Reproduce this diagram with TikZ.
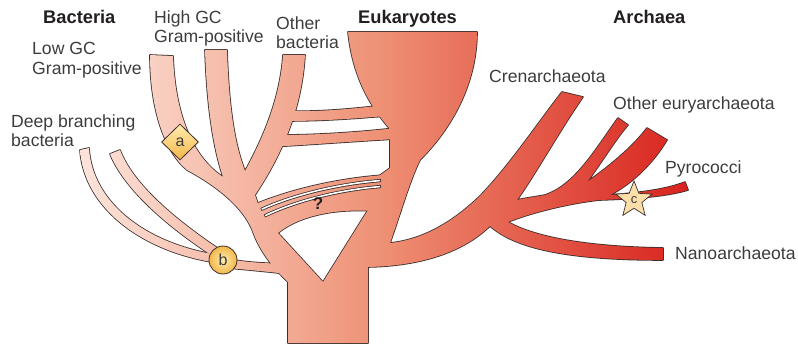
\documentclass[tikz,border=0pt]{standalone}
\usepackage{fontspec}
\setmainfont{Liberation Sans}
\usetikzlibrary{shapes.geometric}

\begin{document}
\begin{tikzpicture}[x=1pt, y=-1pt]

% ---------------------------------------------------------------- colours
\definecolor{edgecol}{HTML}{3A2E2C}     % every outline
\definecolor{treeleft}{HTML}{FCE4DB}    % the shading of the tree, left end
\definecolor{treemid}{HTML}{EE8F73}
\definecolor{treeright}{HTML}{D8221D}
\definecolor{labelcolor}{HTML}{3C3C3C}
\definecolor{titlecolor}{HTML}{231F20}
\definecolor{markhi}{HTML}{FFECB2}
\definecolor{marklo}{HTML}{F4B747}
\definecolor{starfill}{HTML}{FCDFA8}

% ================================================================
% Geometry in pixels of the 798 x 345 page, y pointing down.
%   trunk 288 .. 368, bottom at 343
%   bacteria tips at y = 50 .. 56, eukaryote cup rim at y = 32
%   archaea fan out to the right, tips 560 .. 690
%   one horizontal shading 80 .. 690 is shared by all limbs
% ================================================================

\useasboundingbox (0,0) rectangle (798,345);

\tikzset{
    outline/.style={draw=edgecol, fill=edgecol, line width=1.6pt, line join=round},
    treefill/.style={left color=treeleft, right color=treeright, middle color=treemid},
    slotedge/.style={draw=edgecol, line width=3.2pt},
    slotgap/.style={draw=white, line width=1.6pt, shorten <=0.8pt, shorten >=0.8pt},
    title/.style={font=\bfseries\fontsize{18.3}{20}\selectfont, text=titlecolor,
        anchor=base west, inner sep=0pt},
    taxon/.style={font=\fontsize{17.6}{19.5}\selectfont, text=labelcolor,
        anchor=base west, inner sep=0pt},
    taxontwo/.style={taxon, anchor=north west, align=left},
    marker/.style={draw=edgecol, line width=0.8pt, inner sep=0pt, text=labelcolor},
}

% ================================================================ limbs
% low GC, high GC, other bacteria and the stem down into the trunk
\def\bacteria{(150,55) -- (173,56)
    .. controls (175,110) and (190,155) .. (223,177)
    .. controls (214,150) and (207,110) .. (205,50)
    -- (227,50)
    .. controls (229,110) and (235,145) .. (245,171)
    .. controls (262,140) and (280,100) .. (283,55)
    -- (305,55)
    .. controls (302,105) and (285,150) .. (255,195)
    -- (258,204) -- (265,215) -- (278,233) -- (323,282)
    -- (335,305) -- (288,305) -- (288,282)
    .. controls (275,270) and (260,252) .. (253,232)
    .. controls (246,213) and (226,191) .. (187,170)
    .. controls (165,152) and (150,110) .. (150,55) -- cycle}

% the two deep branching bacteria and their short stem from b
\def\deepA{(80,150) .. controls (84,208) and (143,254) .. (225,264)
    -- (225,256) .. controls (147,246) and (92,203) .. (89,148) -- cycle}
\def\deepB{(110,154) .. controls (124,188) and (165,226) .. (222,262)
    -- (228,255) .. controls (171,218) and (132,182) .. (120,150) -- cycle}
\def\stemb{(228,259) .. controls (245,262) and (260,263) .. (275,263.5)
    -- (292,263) -- (292,275) -- (288,274)
    .. controls (270,272) and (250,270) .. (228,268) -- cycle}

% the bridges from the bacteria to the eukaryotes
\def\bandA{(285,111) .. controls (320,112) and (350,109) .. (386,105)
    -- (386,116) .. controls (350,119) and (320,121) .. (285,121) -- cycle}
\def\bandB{(278,135) .. controls (320,135) and (360,132) .. (396,128)
    -- (396,139) .. controls (360,141) and (320,144) .. (278,146.5) -- cycle}
\def\query{(258,203) .. controls (285,192) and (330,179) .. (384,175)
    -- (384,212) .. controls (340,207) and (300,215) .. (278,233)
    -- (262,225) -- cycle}

% trunk and eukaryote cup
\def\body{(288,343) -- (368,343) -- (368,267) -- (375,250) -- (390,243)
    .. controls (400,215) and (410,180) .. (420,160)
    .. controls (455,125) and (477,80) .. (477,32)
    -- (348,32)
    .. controls (352,70) and (365,100) .. (389,128)
    -- (390,140) -- (390,168) -- (379,176) -- (370,205) -- (368,210)
    -- (323,282) -- (310,300) -- (288,300) -- cycle}

% archaea, going round clockwise from the trunk
\def\archaea{(360,270) -- (368,267)
    .. controls (415,266) and (460,255) .. (490,226)
    .. controls (515,248) and (565,260) .. (663,260)
    -- (663,248)
    .. controls (600,247) and (540,240) .. (508,222)
    .. controls (530,213) and (570,203) .. (600,200)
    .. controls (630,199) and (665,197) .. (688,190)
    -- (685,182)
    .. controls (665,190) and (635,193) .. (610,195)
    .. controls (630,185) and (652,165) .. (667,140)
    -- (647,128)
    .. controls (632,148) and (607,168) .. (587,182)
    .. controls (600,165) and (615,140) .. (628,125)
    -- (618,118)
    .. controls (595,150) and (575,185) .. (545,195)
    .. controls (535,197) and (525,198) .. (517,200)
    .. controls (535,175) and (560,130) .. (583,97)
    -- (562,92)
    .. controls (540,120) and (510,165) .. (480,196)
    .. controls (450,225) and (420,240) .. (390,243)
    -- (375,245) -- cycle}

% outlines first, then the shared shading clipped to each limb
\foreach \limb in {\deepA, \deepB, \stemb, \bacteria, \bandA, \bandB, \query, \body, \archaea} {
    \filldraw[outline] \limb;
}
\foreach \limb in {\deepA, \deepB, \stemb, \bacteria, \bandA, \bandB, \query, \body, \archaea} {
    \begin{scope}
        \clip \limb;
        \shade[treefill] (80,0) rectangle (690,345);
    \end{scope}
}

% the two thin slits in the uncertain bridge
\def\slotA{(261,209.5) .. controls (287,197.5) and (331,184.5) .. (381,180.5)}
\def\slotB{(264.5,216) .. controls (290,203.5) and (332,190.5) .. (381,186.5)}
\draw[slotedge] \slotA;
\draw[slotgap]  \slotA;
\draw[slotedge] \slotB;
\draw[slotgap]  \slotB;

\node[font=\bfseries\fontsize{17}{17}\selectfont, text=titlecolor] (query) at (318,204) {?};

% ================================================================ markers
\node[marker, diamond, top color=markhi, bottom color=marklo,
      minimum width=37pt, minimum height=36pt, font=\fontsize{16}{16}\selectfont]
    (marka) at (180,142) {a};
\node[marker, circle, inner color=markhi, outer color=marklo,
      minimum size=28pt, font=\fontsize{16}{16}\selectfont]
    (markb) at (223,260) {b};
\node[marker, star, star points=5, star point ratio=2.3, fill=starfill,
      line width=0.7pt, minimum size=38pt, font=\fontsize{13}{13}\selectfont]
    (markc) at (634,200) {c};

% ================================================================ titles
\node[title] (bact) at (43,24)  {Bacteria};
\node[title] (euk)  at (358,24) {Eukaryotes};
\node[title] (arch) at (613,24) {Archaea};

% ================================================================ taxa
\node[taxontwo] (lowgc)  at (32,42.4)  {Low GC\\Gram-positive};
\node[taxontwo] (highgc) at (154,10.4) {High GC\\Gram-positive};
\node[taxontwo] (other)  at (276,16.4) {Other\\bacteria};
\node[taxontwo] (deep)   at (11,114.4) {Deep branching\\bacteria};

\node[taxon] (cren) at (489,83)  {Crenarchaeota};
\node[taxon] (eury) at (613,110) {Other euryarchaeota};
\node[taxon] (pyro) at (665,173) {Pyrococci};
\node[taxon] (nano) at (675,259) {Nanoarchaeota};

\end{tikzpicture}
\end{document}
